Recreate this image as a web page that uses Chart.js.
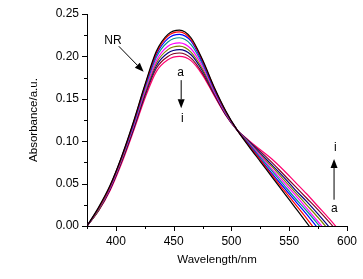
<!DOCTYPE html>
<html>
<head>
<meta charset="utf-8">
<script src="https://cdn.jsdelivr.net/npm/chart.js@4"></script>
<style>
  body { margin: 0; background: #fff; }
  canvas { display: block; }
</style>
</head>
<body>
<canvas id="chart" width="363" height="279"></canvas>
<script>
// wavelength grid (nm) shared by all spectra
const wavelengths = [375, 385, 395, 405, 415, 425, 435, 445, 455, 465, 475, 485, 495, 505, 515, 525, 535, 545, 555, 565, 575, 585, 595];

// absorbance, curves a..i
const specA = [0.000, 0.022, 0.048, 0.082, 0.122, 0.166, 0.206, 0.226, 0.231, 0.222, 0.196, 0.164, 0.136, 0.113, 0.094, 0.076, 0.058, 0.040, 0.022, 0.004, -0.014, null, null];
const specB = [0.000, 0.021, 0.047, 0.081, 0.121, 0.165, 0.204, 0.224, 0.229, 0.220, 0.195, 0.163, 0.135, 0.113, 0.095, 0.078, 0.060, 0.043, 0.026, 0.009, -0.009, null, null];
const specC = [0.000, 0.021, 0.047, 0.081, 0.120, 0.164, 0.202, 0.221, 0.226, 0.218, 0.193, 0.162, 0.135, 0.113, 0.096, 0.079, 0.062, 0.046, 0.030, 0.014, -0.003, null, null];
const specD = [0.000, 0.020, 0.046, 0.080, 0.119, 0.162, 0.199, 0.217, 0.222, 0.214, 0.191, 0.161, 0.134, 0.113, 0.097, 0.081, 0.065, 0.049, 0.033, 0.018, 0.002, -0.015, null];
const specE = [0.000, 0.020, 0.045, 0.079, 0.117, 0.159, 0.195, 0.212, 0.216, 0.209, 0.188, 0.159, 0.133, 0.113, 0.098, 0.083, 0.067, 0.052, 0.037, 0.021, 0.005, -0.011, null];
const specF = [0.000, 0.019, 0.045, 0.078, 0.116, 0.157, 0.192, 0.208, 0.212, 0.205, 0.185, 0.158, 0.133, 0.113, 0.099, 0.084, 0.070, 0.055, 0.040, 0.025, 0.010, -0.006, null];
const specG = [0.000, 0.019, 0.044, 0.077, 0.114, 0.155, 0.189, 0.204, 0.208, 0.202, 0.183, 0.157, 0.132, 0.113, 0.100, 0.086, 0.072, 0.058, 0.043, 0.029, 0.014, -0.002, -0.020];
const specH = [0.000, 0.018, 0.043, 0.076, 0.113, 0.153, 0.186, 0.200, 0.204, 0.198, 0.180, 0.155, 0.131, 0.113, 0.100, 0.088, 0.075, 0.061, 0.047, 0.033, 0.019, 0.004, -0.012];
const specI = [0.000, 0.018, 0.042, 0.074, 0.111, 0.150, 0.182, 0.196, 0.200, 0.195, 0.178, 0.154, 0.131, 0.113, 0.101, 0.090, 0.079, 0.066, 0.052, 0.038, 0.023, 0.008, -0.008];

const spectra = [specA, specB, specC, specD, specE, specF, specG, specH, specI];
const curveColors = ['#000000', '#ff0000', '#0000ff', '#009090', '#ff00ff', '#808000', '#000080', '#800020', '#ff0070'];

const datasets = spectra.map((vals, k) => ({
    data: wavelengths.map((w, n) => ({ x: w, y: vals[n] })).filter(p => p.y !== null),
    borderColor: curveColors[k],
    borderWidth: 1.2,
    pointRadius: 0,
    fill: false,
    cubicInterpolationMode: 'monotone',
    clip: 0
}));

// text labels and arrows, in data units
const notes = [
    { text: 'NR', x: 397.5, y: 0.219 },
    { text: 'a', x: 456, y: 0.181 },
    { text: 'i', x: 457.5, y: 0.127 },
    { text: 'i', x: 590, y: 0.092 },
    { text: 'a', x: 589, y: 0.021 }
];
const arrows = [
    { from: [402.5, 0.212], to: [424, 0.182] },
    { from: [456.5, 0.172], to: [456.5, 0.139] },
    { from: [588.8, 0.031], to: [588.8, 0.079] }
];

const isMajor = (v, step) => Math.abs(v / step - Math.round(v / step)) < 1e-6;

const axisTicks = {
    id: 'axisTicks',
    afterDraw(chart) {
        const ctx = chart.ctx;
        const xs = chart.scales.x, ys = chart.scales.y;
        ctx.save();
        ctx.strokeStyle = '#000';
        ctx.lineWidth = 1;
        ctx.beginPath();
        xs.ticks.forEach(t => {
            const p = Math.round(xs.getPixelForValue(t.value)) + 0.5;
            const len = isMajor(t.value, 50) ? 5 : 3;
            ctx.moveTo(p, ys.bottom);
            ctx.lineTo(p, ys.bottom + len);
        });
        ys.ticks.forEach(t => {
            const p = Math.round(ys.getPixelForValue(t.value)) + 0.5;
            const len = isMajor(t.value, 0.05) ? 5 : 3;
            ctx.moveTo(xs.left, p);
            ctx.lineTo(xs.left - len, p);
        });
        ctx.stroke();

        // annotations
        ctx.fillStyle = '#000';
        ctx.font = '12px "Liberation Sans", Arial, sans-serif';
        ctx.textAlign = 'center';
        ctx.textBaseline = 'middle';
        notes.forEach(n => {
            ctx.fillText(n.text, xs.getPixelForValue(n.x), ys.getPixelForValue(n.y));
        });
        arrows.forEach(a => {
            const x1 = xs.getPixelForValue(a.from[0]), y1 = ys.getPixelForValue(a.from[1]);
            const x2 = xs.getPixelForValue(a.to[0]), y2 = ys.getPixelForValue(a.to[1]);
            const ang = Math.atan2(y2 - y1, x2 - x1);
            const hl = 9, hw = 3.5;
            const bx = x2 - hl * Math.cos(ang), by = y2 - hl * Math.sin(ang);
            ctx.beginPath();
            ctx.moveTo(x1, y1);
            ctx.lineTo(bx, by);
            ctx.stroke();
            ctx.beginPath();
            ctx.moveTo(x2, y2);
            ctx.lineTo(bx + hw * Math.sin(ang), by - hw * Math.cos(ang));
            ctx.lineTo(bx - hw * Math.sin(ang), by + hw * Math.cos(ang));
            ctx.closePath();
            ctx.fill();
        });
        ctx.restore();
    }
};

const font = { family: '"Liberation Sans", Arial, sans-serif', size: 12 };

new Chart(document.getElementById('chart').getContext('2d'), {
    type: 'line',
    data: { datasets: datasets },
    options: {
        responsive: false,
        animation: false,
        layout: { padding: { left: 0, right: 16, top: 14, bottom: 0 } },
        plugins: { legend: { display: false }, tooltip: { enabled: false } },
        scales: {
            x: {
                type: 'linear',
                min: 375,
                max: 600,
                afterFit: s => { s.height = 53; },
                ticks: {
                    stepSize: 25,
                    color: '#000',
                    font: font,
                    padding: 3,
                    maxRotation: 0,
                    autoSkip: false,
                    callback: v => isMajor(v, 50) ? v : ''
                },
                grid: { drawOnChartArea: false, tickLength: 5, color: 'rgba(0,0,0,0)' },
                border: { display: true, color: '#000', width: 1 },
                title: { display: true, text: 'Wavelength/nm', color: '#000', font: { family: font.family, size: 11.5 }, padding: { top: 2, bottom: 12 } }
            },
            y: {
                min: 0,
                max: 0.25,
                afterFit: s => { s.width = 87; },
                ticks: {
                    stepSize: 0.025,
                    color: '#000',
                    font: font,
                    padding: 3,
                    autoSkip: false,
                    callback: v => isMajor(v, 0.05) ? v.toFixed(2) : ''
                },
                grid: { drawOnChartArea: false, tickLength: 5, color: 'rgba(0,0,0,0)' },
                border: { display: true, color: '#000', width: 1 },
                title: { display: true, text: 'Absorbance/a.u.', color: '#000', font: { family: font.family, size: 11.5 }, padding: { top: 27, bottom: 0 } }
            }
        }
    },
    plugins: [axisTicks]
});
</script>
</body>
</html>
